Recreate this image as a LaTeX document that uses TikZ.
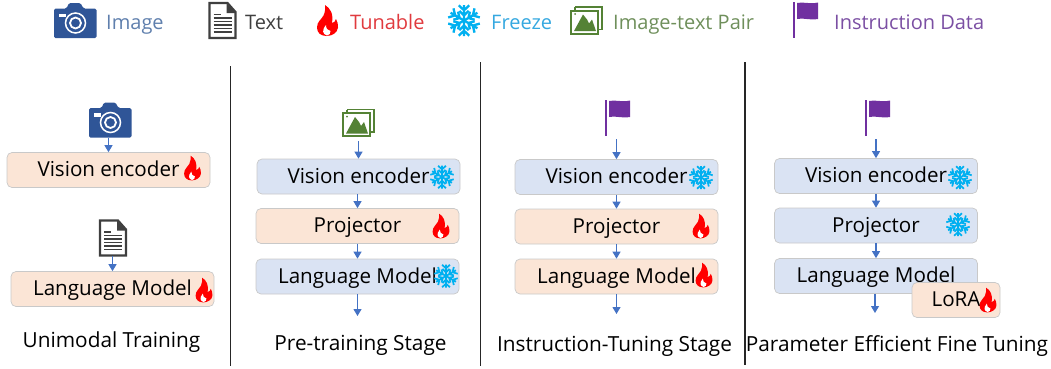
\documentclass[tikz,border=0pt]{standalone}
\usepackage{fontspec}
\setmainfont{Open Sans}
\definecolor{camblue}{HTML}{2F5597}
\definecolor{imgtxt}{HTML}{5F7FAD}
\definecolor{docgray}{HTML}{3F3F3F}
\definecolor{flamered}{HTML}{FF0000}
\definecolor{tuntxt}{HTML}{E03A3E}
\definecolor{snowblue}{HTML}{00B0F0}
\definecolor{frztxt}{HTML}{35A8E0}
\definecolor{picgreen}{HTML}{548235}
\definecolor{pairtxt}{HTML}{6F8F5B}
\definecolor{flagpurple}{HTML}{7030A0}
\definecolor{insttxt}{HTML}{7B4FA3}
\definecolor{peach}{HTML}{FBE5D6}
\definecolor{paleblue}{HTML}{DAE3F3}
\definecolor{boxedge}{HTML}{C9C9C9}
\definecolor{arrowblue}{HTML}{4472C4}
\usetikzlibrary{arrows.meta}
\tikzset{
  x=1pt,y=-1pt,
  box/.style={rounded corners=5pt,draw=boxedge,line width=0.7pt,inner sep=0pt,minimum width=#1,minimum height=35pt,
    font=\fontsize{20.6}{24}\selectfont,text height=16pt,text depth=3pt,text=black},
  tune/.style={box=#1,fill=peach},
  frozen/.style={box=#1,fill=paleblue},
  flow/.style={draw=arrowblue,line width=1.1pt,-{Triangle[length=7pt,width=8pt,fill=arrowblue]}},
  divider/.style={draw=black!85,line width=1.3pt},
  legend/.style={anchor=base west,inner sep=0pt,font=\fontsize{20}{24}\selectfont},
  caption/.style={anchor=base,inner sep=0pt,font=\fontsize{20.8}{24}\selectfont,text=black},
  icon/.style={inner sep=0pt,minimum width=#1,minimum height=36pt},
  flame/.pic={
    \begin{scope}[scale=#1]
    \fill[flamered] (-1,15.5) .. controls (-7,15.5) and (-10.5,12) .. (-10.5,7)
      .. controls (-10.5,1) and (-6,-1) .. (-4,-5)
      .. controls (-2.5,-8) and (-2,-12) .. (-2.5,-15.5)
      .. controls (3,-12) and (6,-7) .. (4.5,2.5)
      .. controls (6.5,2) and (8,1) .. (8.5,-1.5)
      .. controls (10,1) and (10.8,4) .. (10.5,7)
      .. controls (10,12) and (5,15.5) .. (-1,15.5) -- cycle;
    \fill[white] (-0.5,15) .. controls (-5,13.5) and (-6,10) .. (-1.5,4.5)
      .. controls (-1.5,8) and (0,10) .. (3,10.5)
      .. controls (3,13) and (2,14.5) .. (-0.5,15) -- cycle;
    \end{scope}
  },
  snow/.pic={
    \foreach \a in {0,60,...,300}{
      \draw[rotate=\a,snowblue,line width={0.15*#1}]
        (0,0) -- (0,{-#1})
        ({-0.34*#1},{-0.98*#1}) -- (0,{-0.66*#1}) -- ({0.34*#1},{-0.98*#1})
        ({-0.3*#1},{-0.62*#1}) -- (0,{-0.32*#1}) -- ({0.3*#1},{-0.62*#1});
    }
  },
  camera/.pic={
    \fill[camblue,rounded corners=1.5pt] (-21.5,-12) -- (-9,-12) -- (-6.5,-17.5) -- (5,-17.5) -- (8,-12) -- (21,-12) -- (21,17.5) -- (-21.5,17.5) -- cycle;
    \draw[white,line width=1.5pt] (0,2.5) circle (10);
    \draw[white,line width=1.8pt] (0,2.5) circle (5.5);
    \fill[white] (-17,-7) rectangle (-10,-3.5);
  },
  doc/.pic={
    \draw[docgray,line width=2.2pt,fill=white,line join=miter] (-13,-17.5) -- (5,-17.5) -- (13,-8.5) -- (13,17.5) -- (-13,17.5) -- cycle;
    \fill[docgray] (4,-17.5) -- (13,-7.5) -- (4,-7.5) -- cycle;
    \foreach \yy/\xx in {-6/-2,-2.5/9,1/9,4.5/9,8/9,11.5/9}{
      \draw[docgray,line width=1.6pt] (-9,\yy) -- (\xx,\yy);
    }
  },
  pair/.pic={
    \draw[picgreen,line width=1.3pt] (-11,-13.5) -- (16,-13.5) -- (16,9) -- (12,9);
    \draw[picgreen,line width=1.3pt] (-11,-13.5) -- (-11,-10.5);
    \draw[picgreen,line width=2pt,fill=white] (-15.5,-10) rectangle (11.5,13);
    \fill[picgreen] (-12,10.5) -- (-3,-6) -- (1,-1) -- (3,3) -- (6,-1) -- (10,10.5) -- cycle;
    \fill[picgreen] (-11,-6.5) circle (1);
  },
  flag/.pic={
    \fill[flagpurple] (-12.5,-18) rectangle (-10.5,18);
    \fill[flagpurple] (-8.5,-17) .. controls (-2,-18.5) and (4,-15.5) .. (12.5,-17.5)
      -- (12.5,-1) .. controls (4,0.5) and (-2,-2.5) .. (-8.5,-1) -- cycle;
  }
}
\begin{document}
\begin{tikzpicture}
\useasboundingbox (0,0) rectangle (1051,368);
% legend
\pic at (75.5,20.5) {camera};
\node[legend,text=imgtxt] (lImage) at (106,29) {Image};
\pic at (222.5,20.5) {doc};
\node[legend,text=docgray] (lText) at (245,29) {Text};
\pic at (327.5,20.5) {flame=1};
\node[legend,text=tuntxt] (lTun) at (350,29) {Tunable};
\pic at (464,20.5) {snow=15.5};
\node[legend,text=frztxt] (lFrz) at (491,29) {Freeze};
\pic at (586,20.5) {pair};
\node[legend,text=pairtxt] (lPair) at (613,29) {Image-text Pair};
\pic at (805.5,20) {flag};
\node[legend,text=insttxt] (lInst) at (834,29) {Instruction Data};
% dividers
\coordinate (d1a) at (230.5,66); \coordinate (d1b) at (230.5,366);
\coordinate (d2a) at (480.5,62); \coordinate (d2b) at (480.5,366);
\coordinate (d3a) at (745,62); \coordinate (d3b) at (745,365);
\draw[divider] (d1a) -- (d1b);
\draw[divider] (d2a) -- (d2b);
\draw[divider] (d3a) -- (d3b);
% column 1
\node[icon=42pt] (cam1) at (110.5,120) {};
\pic at (cam1) {camera};
\node[tune=203pt] (ve1) at (108.5,170) {Vision encoder};
\pic at (192.5,168) {flame=0.8};
\draw[flow] (cam1.south -| ve1.north) -- (ve1.north);
\node[icon=28pt] (doc1) at (113,238) {};
\pic at (doc1) {doc};
\node[tune=203pt] (lm1) at (112.5,289) {Language Model};
\pic at (204,290) {flame=0.8};
\draw[flow] (doc1.south -| lm1.north) -- (lm1.north);
\node[caption] (c1) at (111.5,347) {Unimodal Training};
% column 2
\node[icon=32pt] (pair2) at (358,123) {};
\pic at (pair2) {pair};
\node[frozen=203pt] (ve2) at (358.5,176.5) {Vision encoder};
\pic at (442,177) {snow=11.5};
\node[tune=203pt] (pj2) at (357.5,226) {Projector};
\pic at (441,226) {flame=0.8};
\node[frozen=203pt] (lm2) at (357.5,276.5) {Language Model};
\pic at (446,276) {snow=11.5};
\coordinate (end2) at (357.5,316);
\draw[flow] (pair2.south -| ve2.north) -- (ve2.north);
\draw[flow] (ve2.south -| pj2.north) -- (pj2.north);
\draw[flow] (pj2.south) -- (lm2.north);
\draw[flow] (lm2.south) -- (end2);
\node[caption] (c2) at (360.5,350) {Pre-training Stage};
% column 3
\node[icon=26pt] (flag3) at (617.5,118) {};
\pic at (flag3) {flag};
\node[frozen=203pt] (ve3) at (616.5,177) {Vision encoder};
\pic at (701,177.5) {snow=11.5};
\node[tune=203pt] (pj3) at (616.5,226.5) {Projector};
\pic at (701,226) {flame=0.8};
\node[tune=203pt] (lm3) at (616.5,276.5) {Language Model};
\pic at (704,275) {flame=0.8};
\coordinate (end3) at (616.5,314);
\draw[flow] (flag3.south -| ve3.north) ++(0,3) -- (ve3.north);
\draw[flow] (ve3.south) -- (pj3.north);
\draw[flow] (pj3.south) -- (lm3.north);
\draw[flow] (lm3.south) -- (end3);
\node[caption] (c3) at (614.5,351) {Instruction-Tuning Stage};
% column 4
\node[icon=26pt] (flag4) at (877.5,118) {};
\pic at (flag4) {flag};
\node[frozen=203pt] (ve4) at (876,176) {Vision encoder};
\pic at (960,177.5) {snow=11.5};
\node[frozen=203pt] (pj4) at (876,225.5) {Projector};
\pic at (958,224.5) {snow=11.5};
\node[frozen=203pt] (lm4) at (876,276) {Language Model};
\coordinate (end4) at (875,313);
\draw[flow] (flag4.south -| ve4.north) ++(0,3) -- (ve4.north);
\draw[flow] (ve4.south) -- (pj4.north);
\draw[flow] (pj4.south) -- (lm4.north);
\draw[flow] (end4 |- lm4.south) -- (end4);
\node[tune=88pt] (lora) at (956,300) {LoRA};
\pic at (988,300) {flame=0.8};
\node[caption] (c4) at (897,351) {Parameter Efficient Fine Tuning};
\end{tikzpicture}
\end{document}
